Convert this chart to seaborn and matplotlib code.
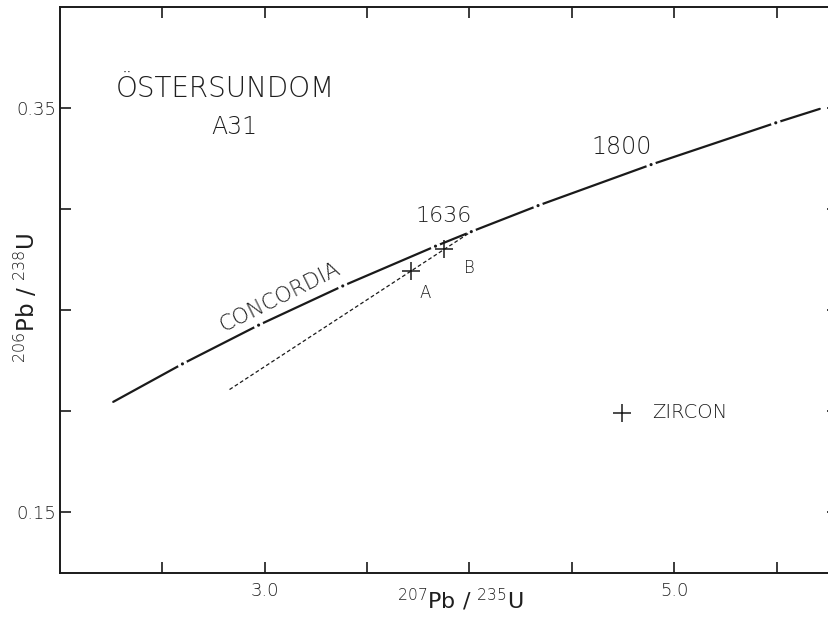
import matplotlib
matplotlib.use("Agg")
import matplotlib.pyplot as plt
import seaborn as sns
import numpy as np

# Concordia curve: points at the age marks (Ma), first and last entries are the drawn ends
concordia_age = [1200, 1300, 1400, 1500, 1600, 1636, 1700, 1800, 1900, 1933]
concordia_x = [2.260, 2.598, 2.970, 3.381, 3.834, 4.009, 4.335, 4.887, 5.496, 5.711]
concordia_y = [0.2046, 0.2234, 0.2426, 0.2620, 0.2817, 0.2889, 0.3018, 0.3221, 0.3428, 0.3497]

# Discordia chord through the zircon fractions up to the upper intercept
discordia_x = [2.828, 4.009]
discordia_y = [0.2107, 0.2889]

# Zircon fractions
fraction_label = ["A", "B"]
fraction_x = [3.716, 3.877]
fraction_y = [0.2694, 0.2803]

x_ticks = [2.5, 3.0, 3.5, 4.0, 4.5, 5.0, 5.5]
x_tick_labels = ["", "3.0", "", "", "", "5.0", ""]
y_ticks = [0.15, 0.20, 0.25, 0.30, 0.35]
y_tick_labels = ["0.15", "", "", "", "0.35"]

sns.set_theme(style="ticks")
plt.rcParams["font.family"] = ["DejaVu Sans"]
plt.rcParams["font.weight"] = "light"
plt.rcParams["mathtext.fontset"] = "custom"
plt.rcParams["mathtext.rm"] = "DejaVu Sans:light"
plt.rcParams["mathtext.it"] = "DejaVu Sans:light"
plt.rcParams["mathtext.bf"] = "DejaVu Sans:bold"
plt.rcParams["mathtext.default"] = "rm"

INK = "#1a1a1a"
TXT = "#1f1f1f"

fig = plt.figure(figsize=(8.29, 6.17), dpi=100)
fig.patch.set_facecolor("white")
ax = fig.add_axes([60 / 829, 1 - 572.7 / 617, 778 / 829, 565.4 / 617])
ax.set_facecolor("white")
ax.set_xlim(2.0, 5.8)
ax.set_ylim(0.12, 0.40)

# Concordia line
sns.lineplot(x=concordia_x, y=concordia_y, sort=False, estimator=None,
             color=INK, linewidth=1.6, ax=ax, zorder=2)
# Age marks: small break with a dot in the middle
marks_x = concordia_x[1:-1]
marks_y = concordia_y[1:-1]
ax.scatter(marks_x, marks_y, s=50, color="white", edgecolors="none", zorder=3)
ax.scatter(marks_x, marks_y, s=5, color=INK, edgecolors="none", zorder=4)

# Discordia chord
sns.lineplot(x=discordia_x, y=discordia_y, sort=False, estimator=None,
             color=INK, linewidth=0.9, ax=ax, zorder=5)
ax.lines[-1].set_dashes([3, 2])

# Zircon fractions
sns.scatterplot(x=fraction_x, y=fraction_y, marker="+", s=170, color=INK,
                linewidth=1.1, ax=ax, zorder=6, label="ZIRCON")
for lab, fx, fy, off in zip(fraction_label, fraction_x, fraction_y, [(14, -22), (25, -19)]):
    ax.annotate(lab, (fx, fy), xytext=off, textcoords="offset pixels",
                ha="center", va="center", fontsize=12, color=TXT)

leg = ax.legend(loc="center left", bbox_to_anchor=(0.7095, 0.284), frameon=False,
                handlelength=1.0, handletextpad=1.06, borderpad=0, borderaxespad=0,
                fontsize=14)
for t in leg.get_texts():
    t.set_color(TXT)

# Annotations
ax.text(2.805, 0.3594, "ÖSTERSUNDOM", ha="center", va="center", fontsize=20, color=TXT)
ax.text(2.853, 0.3406, "A31", ha="center", va="center", fontsize=17, color=TXT)
ax.text(3.875, 0.2966, "1636", ha="center", va="center", fontsize=16, color=TXT)
ax.text(4.745, 0.3307, "1800", ha="center", va="center", fontsize=17, color=TXT)
ax.text(3.073, 0.2565, "CONCORDIA", ha="center", va="center", fontsize=15.5,
        rotation=26.5, rotation_mode="anchor", color=TXT)

# Axes, ticks and labels
ax.set_xticks(x_ticks)
ax.set_xticklabels(x_tick_labels)
ax.set_yticks(y_ticks)
ax.set_yticklabels(y_tick_labels)
ax.tick_params(axis="x", direction="in", length=8, width=1.2, top=True,
               pad=7, labelsize=13, colors=INK, labelcolor=TXT)
ax.tick_params(axis="y", direction="in", length=8, width=1.2, right=True,
               pad=3, labelsize=13, colors=INK, labelcolor=TXT)
for side in ["left", "right", "top", "bottom"]:
    ax.spines[side].set_visible(True)
    ax.spines[side].set_linewidth(1.4)
    ax.spines[side].set_color(INK)

ax.set_xlabel(r"$^{207}$Pb / $^{235}$U", fontsize=16, color=TXT)
ax.xaxis.set_label_coords(0.514, -0.025)
ax.set_ylabel(r"$^{206}$Pb / $^{238}$U", fontsize=16.5, color=TXT)
ax.yaxis.set_label_coords(-0.026, 0.486)

fig.savefig("out.png", dpi=100, facecolor="white")
